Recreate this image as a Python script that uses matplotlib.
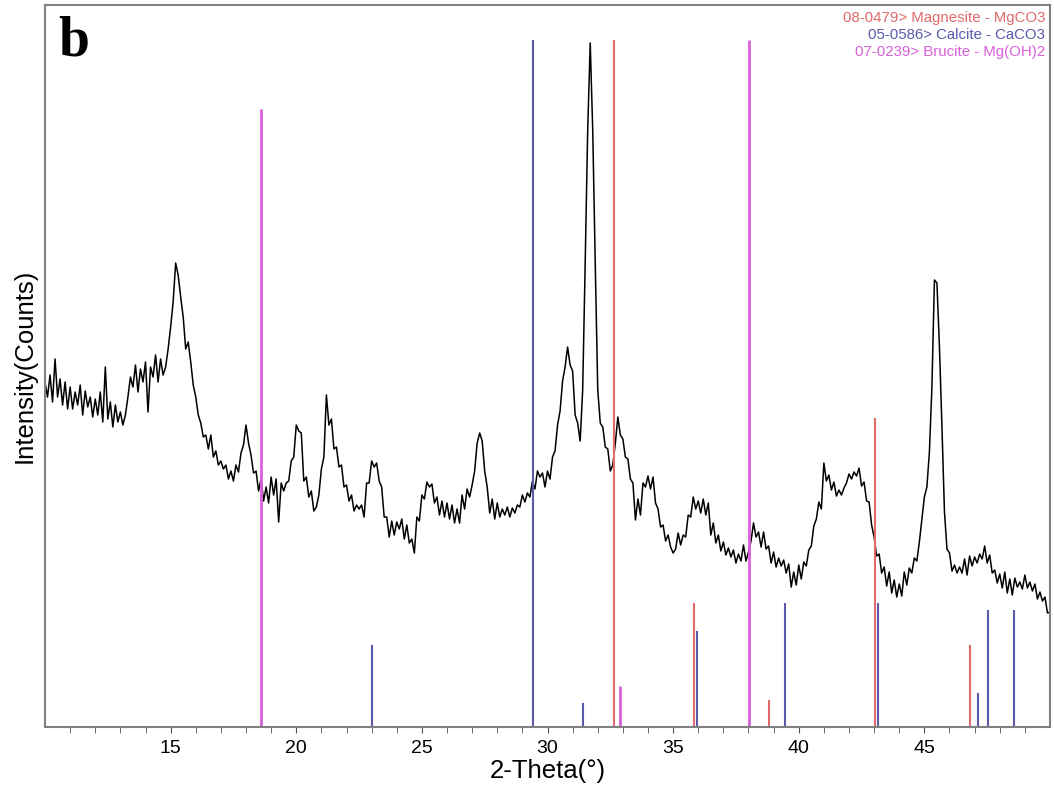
#!/usr/bin/env python3
"""XRD pattern (panel b) with reference stick patterns."""

import numpy as np
import matplotlib.pyplot as plt

# measured scan, 10.0 .. 50.0 deg 2-theta, step 0.1
scan_start = 10.0
scan_step = 0.1
counts = [
    345, 330, 352, 325, 368, 330, 348, 322, 345, 318,
    340, 318, 335, 322, 342, 312, 336, 320, 330, 310,
    328, 312, 335, 305, 360, 308, 325, 300, 322, 305,
    315, 302, 312, 330, 350, 340, 362, 335, 358, 345,
    365, 315, 360, 350, 372, 345, 368, 352, 360, 378,
    400, 425, 464, 452, 430, 410, 378, 385, 365, 342,
    330, 312, 304, 290, 292, 278, 292, 270, 276, 262,
    266, 258, 262, 248, 256, 246, 262, 255, 274, 282,
    302, 284, 272, 254, 256, 236, 248, 226, 240, 224,
    250, 232, 248, 205, 244, 236, 244, 246, 266, 270,
    302, 296, 294, 246, 250, 230, 236, 216, 220, 232,
    258, 270, 332, 302, 308, 278, 280, 260, 262, 240,
    242, 226, 232, 216, 222, 218, 222, 210, 244, 244,
    266, 260, 264, 246, 240, 210, 210, 190, 206, 192,
    205, 198, 208, 188, 202, 184, 188, 174, 210, 206,
    232, 228, 245, 240, 243, 224, 230, 212, 226, 210,
    224, 208, 222, 204, 218, 204, 232, 218, 238, 230,
    242, 256, 284, 294, 286, 256, 240, 214, 228, 208,
    224, 210, 218, 212, 220, 210, 219, 214, 222, 220,
    232, 225, 234, 230, 246, 238, 256, 250, 254, 240,
    256, 248, 270, 276, 302, 316, 346, 360, 380, 362,
    356, 312, 304, 286, 337, 464, 597, 684, 597, 464,
    337, 304, 300, 280, 278, 256, 262, 284, 310, 292,
    288, 270, 268, 248, 244, 207, 228, 212, 244, 240,
    251, 238, 250, 224, 218, 200, 202, 186, 192, 180,
    174, 178, 194, 182, 192, 190, 212, 210, 230, 218,
    226, 214, 228, 212, 224, 192, 204, 184, 192, 176,
    185, 172, 179, 170, 177, 164, 173, 166, 182, 166,
    175, 186, 204, 190, 195, 180, 195, 178, 181, 164,
    175, 160, 169, 161, 167, 154, 163, 140, 155, 142,
    162, 148, 165, 161, 177, 181, 201, 208, 225, 218,
    264, 246, 252, 237, 245, 231, 237, 232, 239, 244,
    253, 248, 255, 251, 259, 241, 245, 226, 225, 202,
    190, 171, 173, 154, 160, 141, 155, 134, 147, 130,
    143, 131, 155, 142, 159, 154, 169, 166, 185, 208,
    230, 240, 275, 340, 447, 444, 380, 300, 215, 178,
    174, 156, 162, 154, 160, 154, 168, 152, 171, 161,
    170, 164, 173, 168, 181, 164, 172, 154, 157, 144,
    153, 139, 155, 134, 148, 132, 149, 140, 145, 138,
    152, 139, 145, 136, 143, 128, 135, 126, 130, 114,
    115,
]

# reference patterns: 2-theta positions and relative intensities (%)
magnesite_pos = [32.65, 35.83, 38.82, 43.03, 46.82]
magnesite_int = [100, 18, 4, 45, 12]
calcite_pos = [23.01, 29.42, 31.41, 35.95, 39.45, 43.15, 47.13, 47.53, 48.57]
calcite_int = [12, 100, 3.5, 14, 18, 18, 5, 17, 17]
brucite_pos = [18.60, 32.89, 38.02]
brucite_int = [90, 6, 100]

legend_labels = ['08-0479> Magnesite - MgCO3',
                 '05-0586> Calcite - CaCO3',
                 '07-0239> Brucite - Mg(OH)2']
colors = ['#e06a6a', '#5a5aaa', '#d860d8']


def main():
    plt.rcParams['font.family'] = ['Liberation Sans', 'DejaVu Sans']
    fig = plt.figure(figsize=(10.54, 7.93), dpi=100)
    ax = fig.add_axes([0.0427, 0.0832, 0.9535, 0.9105])

    two_theta = scan_start + scan_step * np.arange(len(counts))
    ax.plot(two_theta, counts, color='black', lw=1.1)

    stick_scale = 6.87  # 100 % reaches near the top of the frame
    ax.vlines(magnesite_pos, 0, np.array(magnesite_int) * stick_scale,
              colors=colors[0], lw=1.5)
    ax.vlines(calcite_pos, 0, np.array(calcite_int) * stick_scale,
              colors=colors[1], lw=1.5)
    ax.vlines(brucite_pos, 0, np.array(brucite_int) * stick_scale,
              colors=colors[2], lw=2.0)

    ax.set_xlim(10, 50)
    ax.set_ylim(0, 722)
    ax.set_xticks([15, 20, 25, 30, 35, 40, 45])
    ax.set_xticks(np.arange(11, 50), minor=True)
    ax.tick_params(axis='x', which='both', direction='out', length=4,
                   color='#555555', labelsize=14, pad=5)
    ax.set_yticks([])
    for s in ax.spines.values():
        s.set_color('#808080')
        s.set_linewidth(1.5)

    ax.set_xlabel('2-Theta(°)', fontsize=18.5, labelpad=2)
    ax.set_ylabel('Intensity(Counts)', fontsize=18.5, labelpad=6)

    ax.text(0.013, 0.985, 'b', transform=ax.transAxes, fontsize=40,
            fontweight='bold', family='Liberation Serif', va='top', ha='left')

    for i, (lab, c) in enumerate(zip(legend_labels, colors)):
        ax.text(0.995, 0.992 - i * 0.0235, lab, transform=ax.transAxes,
                color=c, fontsize=10.8, ha='right', va='top')

    fig.savefig('out.png', dpi=100)


if __name__ == '__main__':
    main()
